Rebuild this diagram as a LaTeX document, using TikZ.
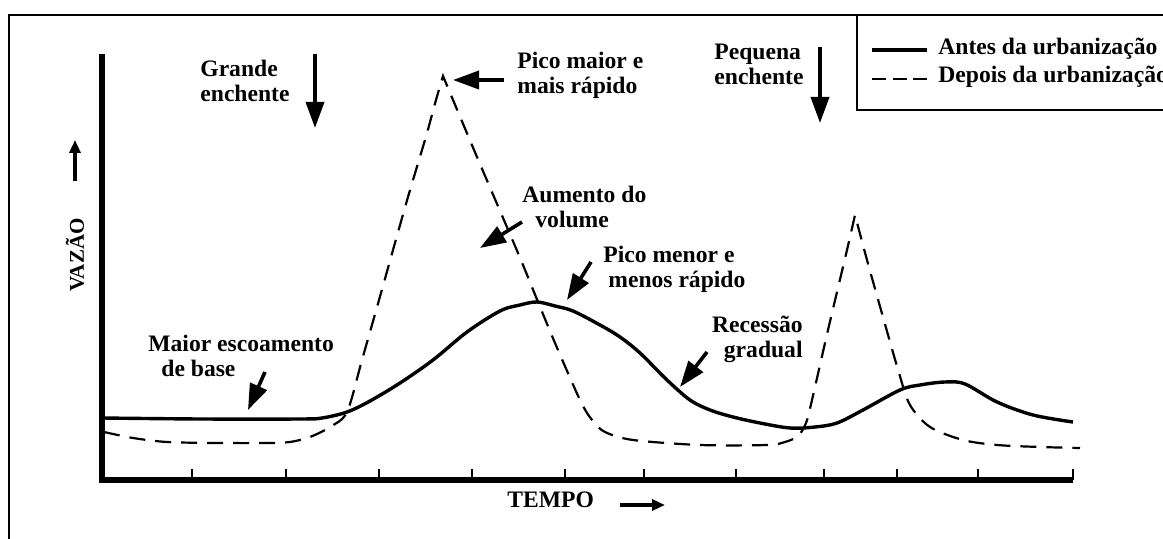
\documentclass[tikz,border=0pt]{standalone}
\usepackage{fontspec}
\setmainfont{Liberation Serif}
\usetikzlibrary{arrows.meta}

\begin{document}
\begin{tikzpicture}[x=0.5pt, y=-0.5pt,
        annot/.style={font=\fontsize{11.8}{12.5}\selectfont\bfseries, inner sep=0pt, align=left},
        bigarrow/.style={line width=1.8pt, -{Triangle[length=13pt, width=9pt]}},
        smallarrow/.style={line width=1.6pt, -{Triangle[length=6.5pt, width=5.5pt]}},
        antes/.style={line width=1.7pt, line join=round},
        depois/.style={line width=1.1pt, dash pattern=on 8pt off 5pt},
        frame/.style={line width=1.2pt}]
        \useasboundingbox (0,0) rectangle (1163,539);
        \clip (0,0) rectangle (1163,539);

        % Frame and legend
        \draw[frame] (9,15) rectangle (1190,570);
        \draw[frame] (857,15) rectangle (1190,110);
        \draw[antes] (872,50) -- (927,50);
        \draw[line width=1.1pt, dash pattern=on 7pt off 3.3pt] (872,79) -- (927,79);
        \node[annot, anchor=base west] (antes) at (938,55) {Antes da urbanização};
        \node[annot, anchor=base west] (depois) at (938,83) {Depois da urbanização};

        % Axes
        \draw[line width=3pt] (102,54) -- (102,480) -- (1073,480);
        \foreach \x in {192,286,379,472,565,644,736,824,897,978,1073}
            \draw[line width=1pt] (\x,480) -- (\x,469);
        \node[annot, font=\fontsize{10.5}{12}\selectfont\bfseries, rotate=90] (vazao) at (75,255) {VAZÃO};
        \node[annot, anchor=base west] (tempo) at (507,508) {TEMPO};

        % Curves
        \draw[antes] plot[smooth, tension=0.55] coordinates {(102,418) (200,419) (300,419) (322,418)
            (347,412) (370,401) (400,383) (433,360) (467,332) (500,311) (520,305) (537,302)
            (555,306) (573,311) (600,325) (620,337) (640,353) (667,380) (690,400) (710,410)
            (733,417) (760,423) (790,428) (815,427) (837,423) (863,410) (900,390) (920,385)
            (945,382) (965,384) (997,402) (1033,415) (1073,422)};
        \draw[depois] plot[smooth, tension=0.5] coordinates {(104,432) (133,438) (167,442) (217,443)
            (267,443) (290,442) (310,437) (330,427) (347,412) (362,360) (381,293) (393,250)
            (408,197) (419,160) (427,133) (436,100) (443,76)}
            -- plot[smooth, tension=0.5] coordinates {(443,76) (477,157) (518,253) (536,297)
            (555,343) (580,400) (592,420) (605,432) (633,440) (700,445) (767,445) (785,442)
            (798,436) (806,423) (812,400) (828,330) (847,250) (855,215)}
            -- plot[smooth, tension=0.5] coordinates {(855,215) (867,260) (881,310) (899,373)
            (910,405) (930,427) (963,440) (997,445) (1040,447) (1080,448)};

        % Labels
        \node[annot, anchor=north west] (grande) at (200,60) {Grande\\enchente};
        \node[annot, anchor=north west] (picomaior) at (517,52) {Pico maior e\\mais rápido};
        \node[annot, anchor=north west] (pequena) at (714,44) {Pequena\\enchente};
        \node[annot, anchor=north west] (escoamento) at (148,335) {Maior escoamento\\\hspace*{6.5pt}de base};
        \node[annot, anchor=north west] (volume) at (522,186) {Aumento do\\\hspace*{6.5pt}volume};
        \node[annot, anchor=north west] (picomenor) at (603,246) {Pico menor e\\\hspace*{2.5pt}menos rápido};
        \node[annot, anchor=north east, align=right] (recessao) at (803,316) {Recessão\\gradual};

        % Arrow ends
        \coordinate (grande-tail) at (315,54);
        \coordinate (grande-tip) at (315,128);
        \coordinate (picomaior-tail) at (504,80);
        \coordinate (picomaior-tip) at (453,80);
        \coordinate (pequena-tail) at (820,47);
        \coordinate (pequena-tip) at (820,123);
        \coordinate (escoamento-tail) at (265,372);
        \coordinate (escoamento-tip) at (248,410);
        \coordinate (volume-tail) at (522,222);
        \coordinate (volume-tip) at (480,248);
        \coordinate (picomenor-tail) at (591,262);
        \coordinate (picomenor-tip) at (567,300);
        \coordinate (recessao-tail) at (707,352);
        \coordinate (recessao-tip) at (680,387);
        \coordinate (vazao-tail) at (75,181);
        \coordinate (vazao-tip) at (75,140);
        \coordinate (tempo-tail) at (620,505);
        \coordinate (tempo-tip) at (665,505);

        % Arrows
        \draw[bigarrow] (grande-tail) -- (grande-tip);
        \draw[bigarrow] (picomaior-tail) -- (picomaior-tip);
        \draw[bigarrow] (pequena-tail) -- (pequena-tip);
        \draw[bigarrow] (escoamento-tail) -- (escoamento-tip);
        \draw[bigarrow] (volume-tail) -- (volume-tip);
        \draw[bigarrow] (picomenor-tail) -- (picomenor-tip);
        \draw[bigarrow] (recessao-tail) -- (recessao-tip);
        \draw[smallarrow] (vazao-tail) -- (vazao-tip);
        \draw[smallarrow] (tempo-tail) -- (tempo-tip);
    \end{tikzpicture}
\end{document}
